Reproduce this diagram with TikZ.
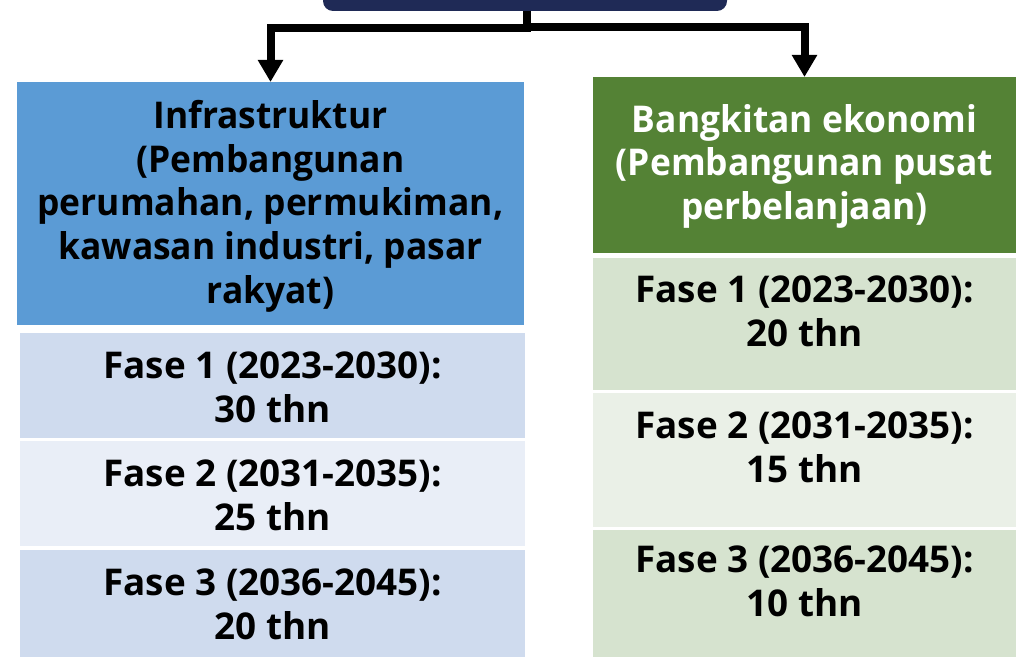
\documentclass[tikz,border=0pt]{standalone}
\usepackage{fontspec}
\setmainfont{Open Sans}[FakeStretch=0.96]
\newfontfamily\phasefont{Open Sans}
\usetikzlibrary{arrows.meta}

\definecolor{navy}{HTML}{1F2A56}
\definecolor{hdrblue}{HTML}{5B9BD5}
\definecolor{hdrgreen}{HTML}{548235}
\definecolor{rowblueA}{HTML}{CFDBEE}
\definecolor{rowblueB}{HTML}{E9EEF7}
\definecolor{rowgreenA}{HTML}{D6E3CF}
\definecolor{rowgreenB}{HTML}{EAF0E7}

\tikzset{
  panel/.style={rectangle, inner sep=0pt, outer sep=0pt, anchor=north west},
  words/.style={font=\bfseries\fontsize{37}{44}\selectfont, align=center,
                inner sep=0pt, outer sep=0pt, anchor=north},
  phase/.style={words, font=\phasefont\bfseries\fontsize{37}{44}\selectfont},
  conn/.style={draw=black, line width=8bp, line join=miter,
               -{Triangle[width=24bp,length=22bp]}}
}

\begin{document}
\begin{tikzpicture}[x=1bp,y=-1bp]
  \useasboundingbox (0,0) rectangle (1023,657);
  \clip (0,0) rectangle (1023,657);

  % top box (mostly above the frame)
  \node[panel, fill=navy, rounded corners=10bp,
        minimum width=404bp, minimum height=50bp] (root) at (323,-39) {};

  % left column
  \node[panel, fill=hdrblue, minimum width=507bp, minimum height=243bp] (infra) at (17,82) {};
  \node[panel, fill=rowblueA, minimum width=505bp, minimum height=105bp] (l1) at (20,333) {};
  \node[panel, fill=rowblueB, minimum width=505bp, minimum height=105bp] (l2) at (20,441) {};
  \node[panel, fill=rowblueA, minimum width=505bp, minimum height=107bp] (l3) at (20,550) {};

  % right column
  \node[panel, fill=hdrgreen, minimum width=423bp, minimum height=176bp] (eko) at (593,77) {};
  \node[panel, fill=rowgreenA, minimum width=423bp, minimum height=132bp] (r1) at (593,258) {};
  \node[panel, fill=rowgreenB, minimum width=423bp, minimum height=134bp] (r2) at (593,393) {};
  \node[panel, fill=rowgreenA, minimum width=423bp, minimum height=127bp] (r3) at (593,530) {};

  % texts
  \node[words] (infraT) at ([yshift=-18bp]infra.north)
    {Infrastruktur\\(Pembangunan\\perumahan, permukiman,\\kawasan industri, pasar\\rakyat)};
  \node[words, text=white] (ekoT) at ([yshift=-27bp]eko.north)
    {Bangkitan ekonomi\\(Pembangunan pusat\\perbelanjaan)};

  \node[phase] (l1T) at ([yshift=-19bp]l1.north) {Fase 1 (2023-2030):\\30 thn};
  \node[phase] (l2T) at ([yshift=-19bp]l2.north) {Fase 2 (2031-2035):\\25 thn};
  \node[phase] (l3T) at ([yshift=-19bp]l3.north) {Fase 3 (2036-2045):\\20 thn};

  \node[phase] (r1T) at ([yshift=-18bp]r1.north) {Fase 1 (2023-2030):\\20 thn};
  \node[phase] (r2T) at ([yshift=-19bp]r2.north) {Fase 2 (2031-2035):\\15 thn};
  \node[phase] (r3T) at ([yshift=-16bp]r3.north) {Fase 3 (2036-2045):\\10 thn};

  % connectors
  \draw[conn] ([xshift=2bp]root.south) -- ++(0,17) -| (infra.north);
  \draw[conn] ([xshift=2bp]root.south) -- ++(0,16) -| (eko.north);
\end{tikzpicture}
\end{document}
